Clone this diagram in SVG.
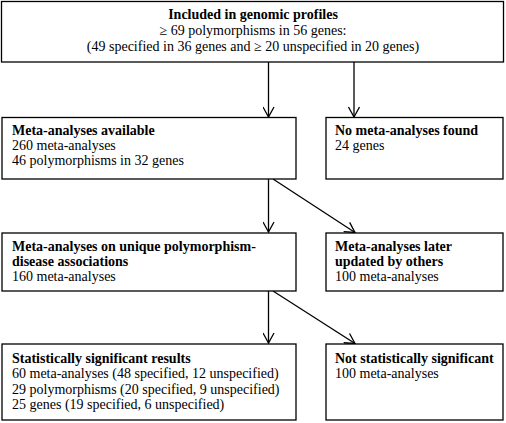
<svg xmlns="http://www.w3.org/2000/svg" width="506" height="423" viewBox="0 0 506 423">
<style>
.box{fill:#fff;stroke:#000;stroke-width:1.3}
text{font-family:"Liberation Serif","Times New Roman",serif;font-size:14px;fill:#000}
.b{font-weight:bold}
.c{stroke:#000;stroke-width:1.3;fill:none;marker-end:url(#ah)}
</style>
<defs>
<marker id="ah" viewBox="0 0 12 12" refX="11" refY="6" markerWidth="12" markerHeight="12" markerUnits="userSpaceOnUse" orient="auto">
<polyline points="1,0.5 11,6 1,11.5" fill="none" stroke="#000" stroke-width="1.3"/>
</marker>
</defs>
<rect width="506" height="423" fill="#fff"/>
<g id="connectors">
<line class="c" x1="268.5" y1="62" x2="268.5" y2="117"/>
<line class="c" x1="354" y1="62" x2="354" y2="117"/>
<line class="c" x1="268.5" y1="179" x2="268.5" y2="232"/>
<line class="c" x1="273" y1="179" x2="355" y2="232.5"/>
<line class="c" x1="268.5" y1="291" x2="268.5" y2="343"/>
<line class="c" x1="273" y1="291" x2="355" y2="343.5"/>
</g>
<g id="n1">
<rect class="box" x="1.5" y="1.5" width="502" height="60.5"/>
<text x="253" y="19" text-anchor="middle" class="b">Included in genomic profiles</text>
<text x="253" y="35" text-anchor="middle">≥ 69 polymorphisms in 56 genes:</text>
<text x="253" y="51" text-anchor="middle">(49 specified in 36 genes and ≥ 20 unspecified in 20 genes)</text>
</g>
<g id="n2">
<rect class="box" x="2" y="117.5" width="294" height="61.5"/>
<text x="12" y="135" class="b">Meta-analyses available</text>
<text x="12" y="150">260 meta-analyses</text>
<text x="12" y="165">46 polymorphisms in 32 genes</text>
</g>
<g id="n3">
<rect class="box" x="326" y="117.5" width="177" height="61.5"/>
<text x="335" y="135" class="b">No meta-analyses found</text>
<text x="335" y="150">24 genes</text>
</g>
<g id="n4">
<rect class="box" x="2" y="233" width="294" height="58"/>
<text x="12" y="251" class="b">Meta-analyses on unique polymorphism-</text>
<text x="12" y="266" class="b">disease associations</text>
<text x="12" y="281">160 meta-analyses</text>
</g>
<g id="n5">
<rect class="box" x="326" y="233" width="177" height="58"/>
<text x="335" y="251" class="b">Meta-analyses later</text>
<text x="335" y="266" class="b">updated by others</text>
<text x="335" y="281">100 meta-analyses</text>
</g>
<g id="n6">
<rect class="box" x="2" y="344" width="294" height="76"/>
<text x="12" y="363" class="b">Statistically significant results</text>
<text x="12" y="378">60 meta-analyses (48 specified, 12 unspecified)</text>
<text x="12" y="393.5">29 polymorphisms (20 specified, 9 unspecified)</text>
<text x="12" y="409">25 genes (19 specified, 6 unspecified)</text>
</g>
<g id="n7">
<rect class="box" x="326" y="344" width="177" height="76"/>
<text x="335" y="363" class="b">Not statistically significant</text>
<text x="335" y="378">100 meta-analyses</text>
</g>
</svg>
